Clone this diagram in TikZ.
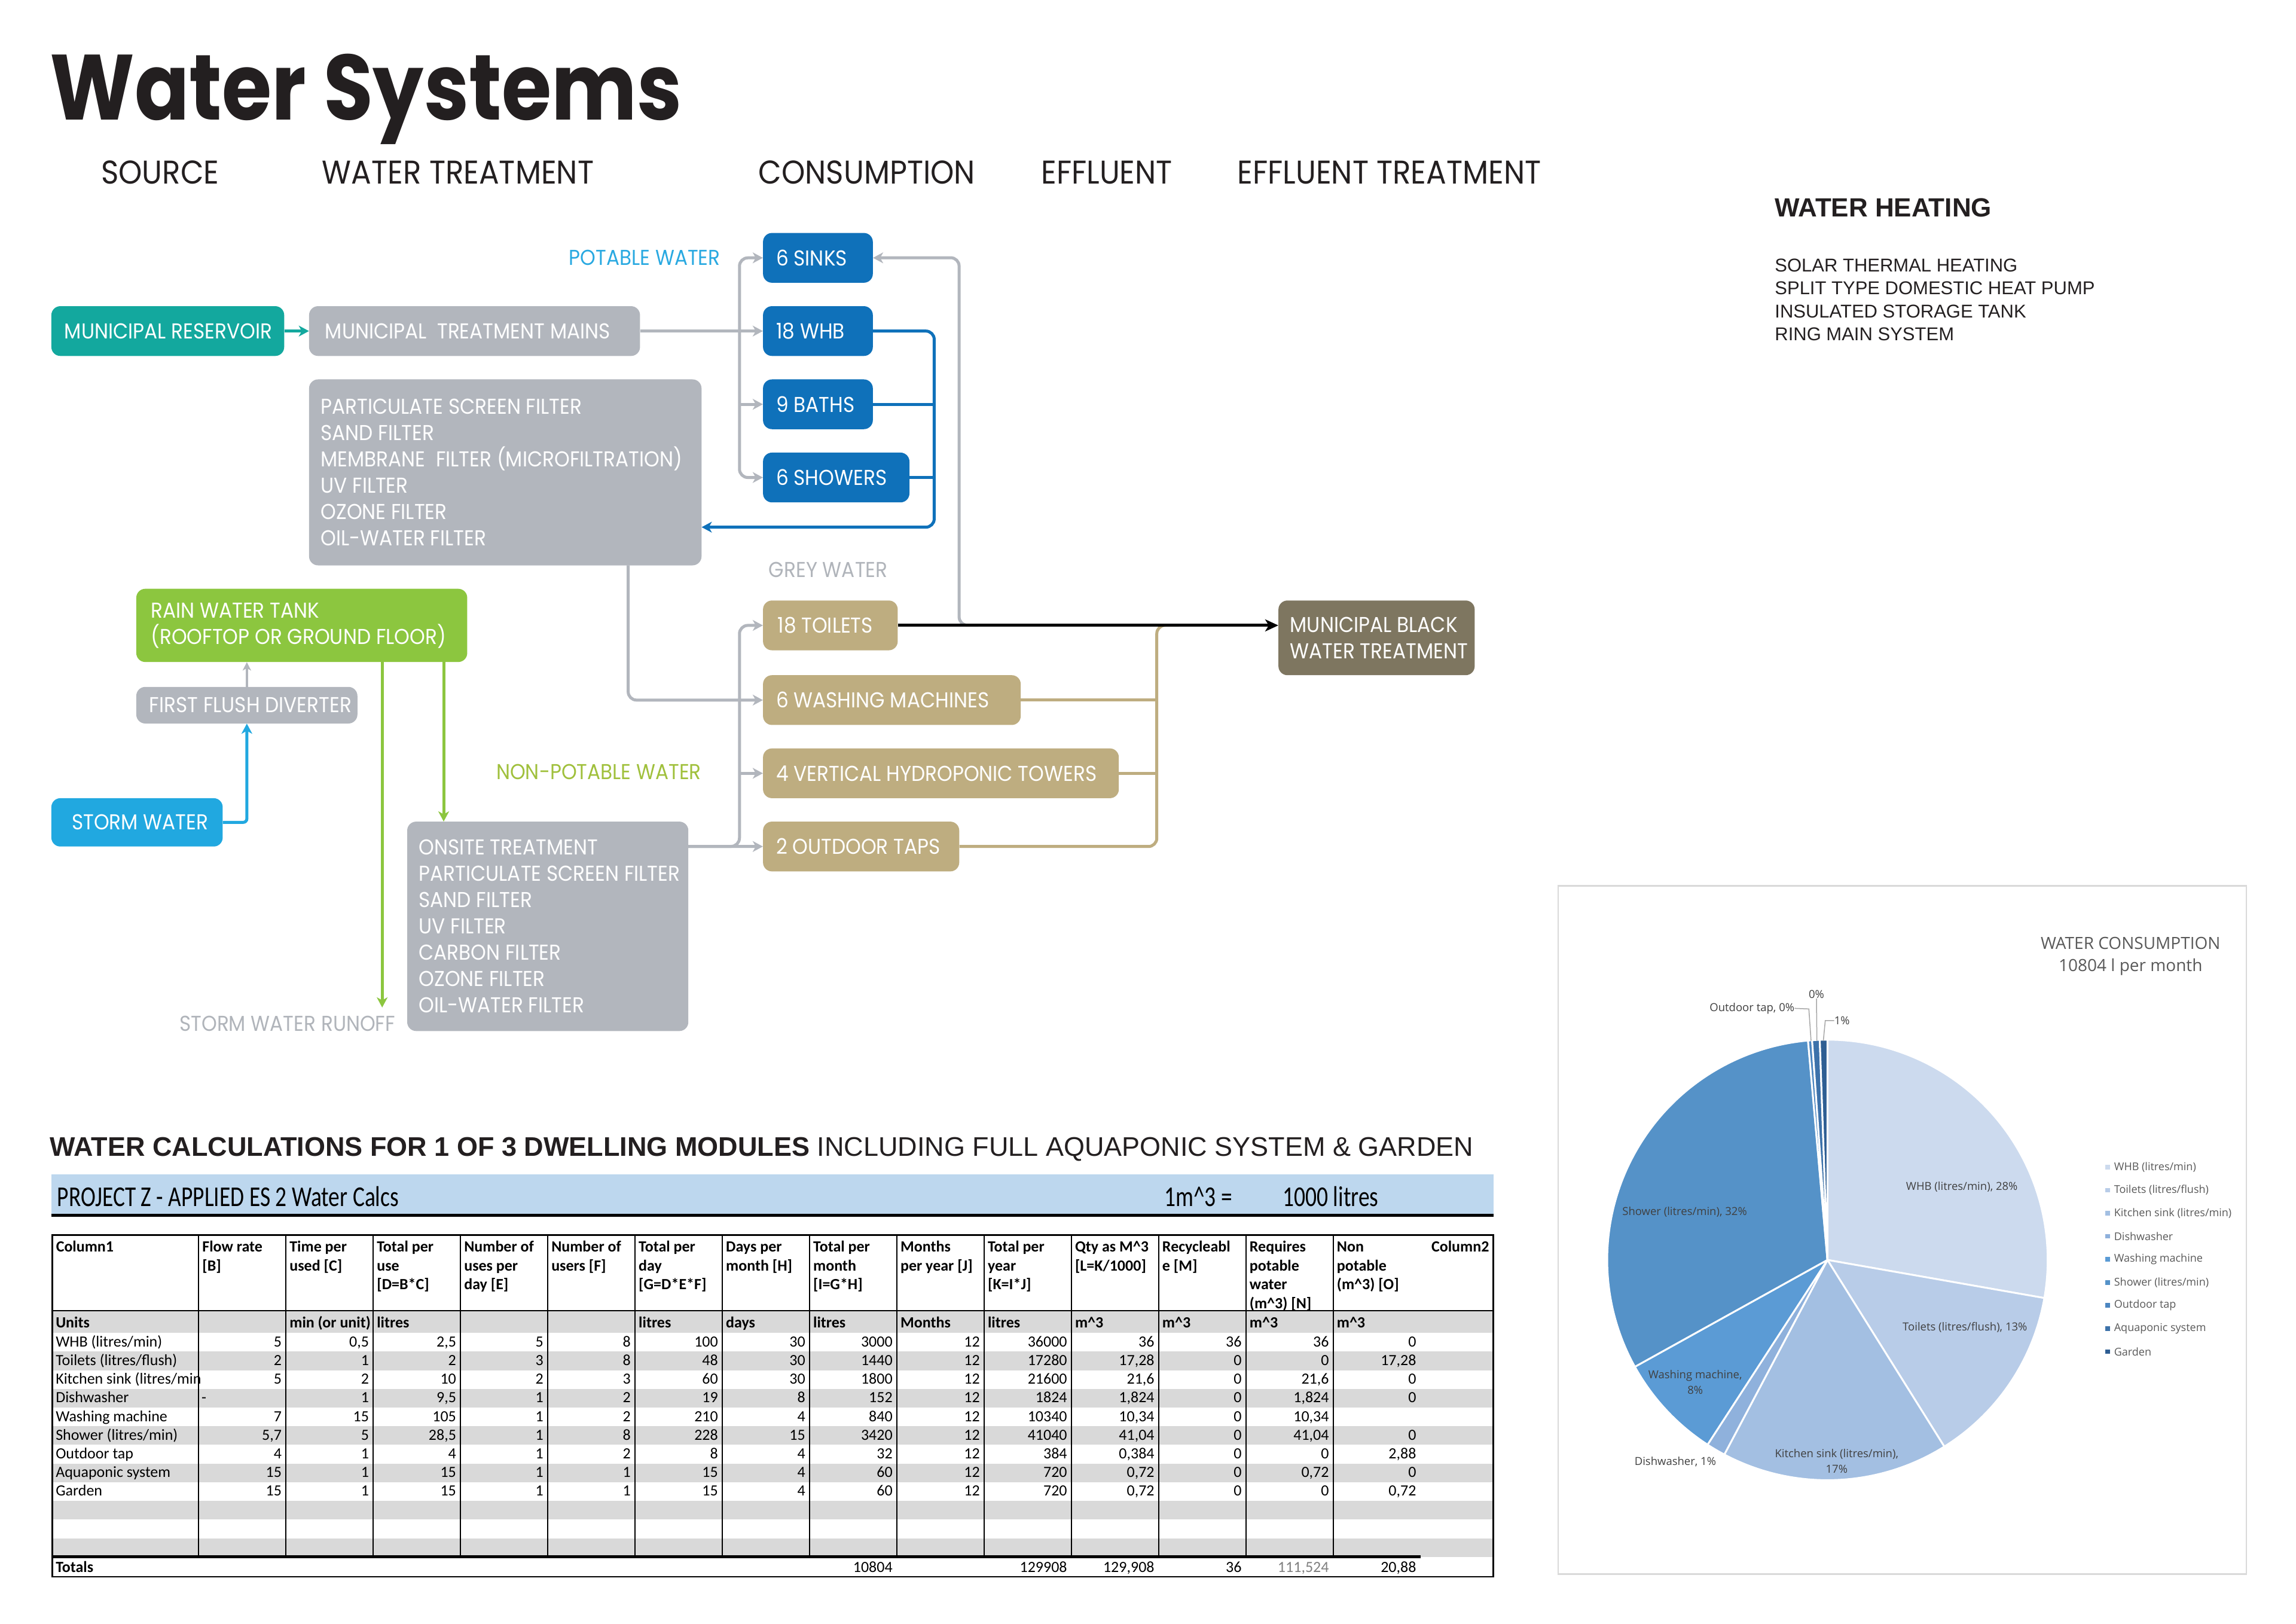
\documentclass[tikz,border=0pt]{standalone}
\usepackage{fontspec}
\setmainfont{Liberation Sans}
\newfontfamily\futfont[FakeStretch=0.91]{Poppins}
\newfontfamily\futtfont[FakeStretch=0.87]{Poppins}
\newfontfamily\carlfont{Carlito}
\newfontfamily\carlcfont[FakeStretch=0.78]{Carlito}
\newfontfamily\osfont{Open Sans}
\usetikzlibrary{arrows.meta}
\newlength\uu \setlength\uu{2.449pt}
\newlength\bw \newlength\bh
\newcommand\crt{\textasciicircum}
\definecolor{cteal}{HTML}{13A89E}
\definecolor{cgrey}{HTML}{B2B6BD}
\definecolor{cblue}{HTML}{0F71BA}
\definecolor{cstorm}{HTML}{21A8E0}
\definecolor{cgreen}{HTML}{8CC63F}
\definecolor{ctan}{HTML}{BEAD80}
\definecolor{cdark}{HTML}{7E7660}
\definecolor{cpot}{HTML}{29A9E1}
\definecolor{cnon}{HTML}{A0C03C}
\definecolor{clgrey}{HTML}{B0B4BA}
\definecolor{ctitle}{HTML}{231F20}
\definecolor{tgrey}{HTML}{D9D9D9}
\definecolor{cbar}{HTML}{BDD7EE}
\definecolor{cframe}{HTML}{D9D9D9}
\definecolor{cpie}{HTML}{404040}
\definecolor{cleg}{HTML}{595959}
\definecolor{cldr}{HTML}{A6A6A6}
\definecolor{p0}{HTML}{CCDAEE}
\definecolor{p1}{HTML}{B8CCE8}
\definecolor{p2}{HTML}{A3BFE2}
\definecolor{p3}{HTML}{8FB1DC}
\definecolor{p4}{HTML}{5B9BD5}
\definecolor{p5}{HTML}{5592C8}
\definecolor{p6}{HTML}{4C86C0}
\definecolor{p7}{HTML}{3D72AA}
\definecolor{p8}{HTML}{2E5E93}
\tikzset{
  box/.style={rounded corners=15pt, inner sep=0pt, draw=none},
  boxtxt/.style={inner sep=0pt, text=white, align=left, font=\futfont\fontsize{36}{44}\selectfont},
  lbl/.style={inner sep=0pt, font=\futfont\fontsize{36}{44}\selectfont},
  hdr/.style={inner sep=0pt, text=ctitle, font=\futfont\fontsize{55}{60}\selectfont},
  arr/.style={-{Stealth[length=17pt,width=18pt,inset=5pt]}},
  gl/.style={draw=cgrey, line width=5pt, rounded corners=14pt},
  bl/.style={draw=cblue, line width=5pt, rounded corners=14pt},
  sbl/.style={draw=cstorm, line width=5pt, rounded corners=6pt},
  gn/.style={draw=cgreen, line width=5pt},
  tl/.style={draw=ctan, line width=5pt, rounded corners=14pt},
  cell/.style={inner sep=0pt, font=\carlfont\fontsize{26}{31}\selectfont},
  hcell/.style={inner sep=0pt, font=\carlfont\bfseries\fontsize{26}{31}\selectfont},
  bart/.style={inner sep=0pt, font=\carlcfont\fontsize{48}{52}\selectfont},
  pl/.style={inner sep=0pt, text=cpie, font=\osfont\fontsize{18.5}{26}\selectfont},
  leg/.style={inner sep=0pt, text=cleg, font=\osfont\fontsize{18}{20}\selectfont},
  ptitle/.style={inner sep=0pt, text=cleg, font=\osfont\fontsize{28}{32}\selectfont},
  ldr/.style={draw=cldr, line width=1.5pt},
}
% name, x1, y1, x2, y2, style, pad, text
\newcommand\bx[8]{%
  \pgfmathsetlength\bw{(#4-#2)*\uu}\pgfmathsetlength\bh{(#5-#3)*\uu}%
  \node[box,#6,anchor=north west,minimum width=\bw,minimum height=\bh] (#1) at (#2,#3) {};
  \node[boxtxt,anchor=west] (#1t) at ([xshift=#7*\uu]#1.west) {#8};}
% table data row: index, name, values
\newcommand\trow[3]{%
  \node[cell,anchor=base west] (r#1n) at (38,910.2+12.75*#1+9.4) {#2};
  \foreach \v [count=\cc] in {#3}
    \node[cell,anchor=base east] (r#1c\cc) at (135.6+59.6*\cc-2.8,910.2+12.75*#1+9.4) {\v};}
% header column: name, x, lines
\newcommand\hcol[3]{%
  \foreach \htxt [count=\k from 0] in {#3}
    \node[hcell,anchor=base west] (h#1\k) at (#2+2.5,854.8+12.9*\k) {\htxt};}
\begin{document}
\begin{tikzpicture}[x=\uu,y=-\uu]
\useasboundingbox (0,0) rectangle (1568,1109);
\fill[white] (0,0) rectangle (1568,1109);

% ---------- title and headers
\node[anchor=base west, inner sep=0pt, text=ctitle, font=\futtfont\bfseries\fontsize{155}{160}\selectfont] (title) at (34,82) {Water Systems};
\node[hdr,anchor=base west] (hsrc) at (69,125.5) {SOURCE};
\node[hdr,anchor=base west] (htr) at (220,125.5) {WATER TREATMENT};
\node[hdr,anchor=base west] (hcon) at (518,125.5) {CONSUMPTION};
\node[hdr,anchor=base west] (heff) at (711,125.5) {EFFLUENT};
\node[hdr,anchor=base west] (hefft) at (845,125.5) {EFFLUENT TREATMENT};

% ---------- water heating
\node[anchor=base west, inner sep=0pt, text=ctitle, font=\bfseries\fontsize{44}{50}\selectfont] (wh) at (1212,148) {WATER HEATING};
\foreach \w [count=\k from 0] in {SOLAR THERMAL HEATING,SPLIT TYPE DOMESTIC HEAT PUMP,INSULATED STORAGE TANK,RING MAIN SYSTEM}
  \node[anchor=base west, inner sep=0pt, text=ctitle, font=\fontsize{31}{38}\selectfont] (whl\k) at (1212,185.5+15.7*\k) {\w};

% ---------- boxes
\bx{mr}{35}{209}{194}{243}{fill=cteal}{9}{MUNICIPAL RESERVOIR}
\bx{mtm}{211}{209}{437}{243}{fill=cgrey}{11}{MUNICIPAL\ \ TREATMENT MAINS}
\bx{filt}{211}{259}{479}{386}{fill=cgrey}{8}{PARTICULATE SCREEN FILTER\\SAND FILTER\\MEMBRANE\ \ FILTER (MICROFILTRATION)\\UV FILTER\\OZONE FILTER\\OIL-WATER FILTER}
\bx{sinks}{521}{159}{596}{193}{fill=cblue}{9}{6 SINKS}
\bx{whb}{521}{209}{596}{243}{fill=cblue}{9}{18 WHB}
\bx{baths}{521}{259}{596}{293}{fill=cblue}{9}{9 BATHS}
\bx{showers}{521}{309}{621}{343}{fill=cblue}{9}{6 SHOWERS}
\bx{toilets}{521}{410}{613}{444}{fill=ctan}{10}{18 TOILETS}
\bx{wash}{521}{461}{697}{495}{fill=ctan}{9}{6 WASHING MACHINES}
\bx{hydro}{521}{511}{764}{545}{fill=ctan}{9}{4 VERTICAL HYDROPONIC TOWERS}
\bx{taps}{521}{561}{655}{595}{fill=ctan}{9}{2 OUTDOOR TAPS}
\bx{mbw}{873}{410}{1007}{461}{fill=cdark}{8}{MUNICIPAL BLACK\\WATER TREATMENT}
\bx{rwt}{93}{402}{319}{452}{fill=cgreen}{10}{RAIN WATER TANK\\(ROOFTOP OR GROUND FLOOR)}
\bx{ffd}{93}{469}{244}{494}{fill=cgrey}{9}{FIRST FLUSH DIVERTER}
\bx{storm}{35}{545}{152}{578}{fill=cstorm}{14}{STORM WATER}
\bx{onsite}{278}{561}{470}{704}{fill=cgrey}{8}{ONSITE TREATMENT\\PARTICULATE SCREEN FILTER\\SAND FILTER\\UV FILTER\\CARBON FILTER\\OZONE FILTER\\OIL-WATER FILTER}

% ---------- labels
\node[lbl,text=cpot,anchor=east] (potl) at (492,176) {POTABLE WATER};
\node[lbl,text=clgrey,anchor=west] (greyl) at (525,389) {GREY WATER};
\node[lbl,text=cnon,anchor=east] (nonl) at (479,527) {NON-POTABLE WATER};
\node[lbl,text=clgrey,anchor=east] (runl) at (270,699) {STORM WATER RUNOFF};

% ---------- connectors
\coordinate (pj) at (505,226);
\coordinate (br) at (638,360);
\coordinate (gr1) at (668,427);
\coordinate (gr2) at (655,176);
\coordinate (fb) at (429,386);
\coordinate (os) at (470,578);
\coordinate (ov) at (505,500);
\coordinate (tt) at (790,427);
\coordinate (tt2) at (805,427);
\coordinate (g1) at (261,452);
\coordinate (g1e) at (261,688);
\coordinate (g2) at (303,452);

\draw[draw=cteal,line width=5pt,arr] (mr.east) -- (mtm.west);
\draw[gl,arr] (mtm.east) -- (whb.west);
\draw[gl,arr] (pj) |- (sinks.west);
\draw[gl,arr] (pj) |- (showers.west);
\draw[gl,arr] (pj |- baths.west) -- (baths.west);

\draw[bl,arr] (whb.east) -| (br) -- (br -| filt.east);
\draw[bl] (baths.east) -- (baths.east -| br);
\draw[bl] (showers.east) -- (showers.east -| br);

\draw[gl,arr] (gr1) -| (gr2) -- (sinks.east);
\draw[gl,arr] (fb) |- (wash.west);
\draw[gl,arr] (os) -| (ov) |- (toilets.west);
\draw[gl,arr] (os) -- (taps.west);
\draw[gl,arr] (ov |- hydro.west) -- (hydro.west);

\draw[tl] (taps.east) -| (tt) -- (tt2);
\draw[tl] (wash.east) -- (wash.east -| tt);
\draw[tl] (hydro.east) -- (hydro.east -| tt);
\draw[line width=5pt,-{Stealth[length=22pt,width=20pt,inset=6pt]}] (toilets.east) -- (toilets.east -| mbw.west);

\draw[gl,line width=3.5pt,-{Stealth[length=14pt,width=14pt,inset=4pt]}] (ffd.north) -- (ffd.north |- rwt.south);
\draw[sbl,arr] (storm.east) -| (ffd.south);
\draw[gn,arr] (g1) -- (g1e);
\draw[gn,arr] (g2) -- (g2 |- onsite.north);

% ---------- table heading
\node[anchor=base west, inner sep=0pt, text=ctitle, font=\fontsize{45}{50}\selectfont] (thead) at (34,789.5) {\textbf{WATER CALCULATIONS FOR 1 OF 3 DWELLING MODULES} INCLUDING FULL AQUAPONIC SYSTEM \& GARDEN};

% ---------- project bar
\fill[cbar] (35,802) rectangle (1020,830);
\draw[line width=5pt] (35,830) -- (1020,830);
\node[bart,anchor=base west] (bar1) at (39,824) {PROJECT Z - APPLIED ES 2 Water Calcs};
\node[bart,anchor=base west] (bar2) at (795,824) {1m\crt3 =};
\node[bart,anchor=base west] (bar3) at (876,824) {1000 litres};

% ---------- table
\fill[tgrey] (35.7,895) rectangle (1019.8,910.2);
\foreach \i in {1,3,5,7,9,11}
  \fill[tgrey] (35.7,910.2+12.75*\i) rectangle (1019.8,910.2+12.75*\i+12.75);
\draw[line width=2.5pt] (35.7,843.5) rectangle (1019.8,1076.8);
\foreach \k in {0,...,13}
  \draw[line width=2pt] (135.6+59.6*\k,843.5) -- (135.6+59.6*\k,1063.1);
\draw[line width=2pt] (35.7,895) -- (1019.8,895);
\draw[line width=5pt] (35.7,1063.1) -- (970,1063.1);

\hcol{a}{35.7}{Column1}
\hcol{b}{135.6}{Flow rate,[B]}
\hcol{c}{195.2}{Time per,used [C]}
\hcol{d}{254.8}{Total per,use,[D=B*C]}
\hcol{e}{314.4}{Number of,uses per,day [E]}
\hcol{f}{374}{Number of,users [F]}
\hcol{g}{433.6}{Total per,day,[G=D*E*F]}
\hcol{h}{493.2}{Days per,month [H]}
\hcol{i}{552.8}{Total per,month,[I=G*H]}
\hcol{j}{612.4}{Months,per year [J]}
\hcol{k}{672}{Total per,year,[K=I*J]}
\hcol{l}{731.6}{Qty as M\crt3,[L=K/1000]}
\hcol{m}{791.2}{Recycleabl,e [M]}
\hcol{n}{850.8}{Requires,potable,water,(m\crt3) [N]}
\hcol{o}{910.4}{Non,potable,(m\crt3) [O]}
\node[hcell,anchor=base east] (hcol2) at (1017,854.8) {Column2};

% units row
\node[hcell,anchor=base west] (u1) at (38,906.5) {Units};
\node[hcell,anchor=base west] (u2) at (197.7,906.5) {min (or unit)};
\node[hcell,anchor=base west] (u3) at (257.3,906.5) {litres};
\node[hcell,anchor=base west] (u4) at (436.1,906.5) {litres};
\node[hcell,anchor=base west] (u5) at (495.7,906.5) {days};
\node[hcell,anchor=base west] (u6) at (555.3,906.5) {litres};
\node[hcell,anchor=base west] (u7) at (614.9,906.5) {Months};
\node[hcell,anchor=base west] (u8) at (674.5,906.5) {litres};
\node[hcell,anchor=base west] (u9) at (734.1,906.5) {m\crt3};
\node[hcell,anchor=base west] (u10) at (793.7,906.5) {m\crt3};
\node[hcell,anchor=base west] (u11) at (853.3,906.5) {m\crt3};
\node[hcell,anchor=base west] (u12) at (912.9,906.5) {m\crt3};

\trow{0}{WHB (litres/min)}{5,{0,5},{2,5},5,8,100,30,3000,12,36000,36,36,36,0}
\trow{1}{Toilets (litres/flush)}{2,1,2,3,8,48,30,1440,12,17280,{17,28},0,0,{17,28}}
\trow{2}{Kitchen sink (litres/min}{5,2,10,2,3,60,30,1800,12,21600,{21,6},0,{21,6},0}
\trow{3}{Dishwasher}{{},1,{9,5},1,2,19,8,152,12,1824,{1,824},0,{1,824},0}
\node[cell,anchor=base west] (dashb) at (137.6,910.2+12.75*3+9.4) {-};
\trow{4}{Washing machine}{7,15,105,1,2,210,4,840,12,10340,{10,34},0,{10,34},{}}
\trow{5}{Shower (litres/min)}{{5,7},5,{28,5},1,8,228,15,3420,12,41040,{41,04},0,{41,04},0}
\trow{6}{Outdoor tap}{4,1,4,1,2,8,4,32,12,384,{0,384},0,0,{2,88}}
\trow{7}{Aquaponic system}{15,1,15,1,1,15,4,60,12,720,{0,72},0,{0,72},0}
\trow{8}{Garden}{15,1,15,1,1,15,4,60,12,720,{0,72},0,0,{0,72}}

% totals
\node[hcell,anchor=base west] (tot) at (38,1073.5) {Totals};
\node[cell,anchor=base east] (tot1) at (609.6,1073.5) {10804};
\node[cell,anchor=base east] (tot2) at (728.8,1073.5) {129908};
\node[cell,anchor=base east] (tot3) at (788.4,1073.5) {129,908};
\node[cell,anchor=base east] (tot4) at (848,1073.5) {36};
\node[cell,anchor=base east,text=gray] (tot5) at (907.6,1073.5) {111,524};
\node[cell,anchor=base east] (tot6) at (967.2,1073.5) {20,88};

% ---------- pie chart
\draw[draw=cframe,line width=2.5pt] (1064,605) rectangle (1534,1075);
\node[ptitle] (pt1) at (1455,644.2) {WATER CONSUMPTION};
\node[ptitle] (pt2) at (1455,660.2) {10804 l per month};
\coordinate (pc) at (1248,860.4);
\foreach \a/\b [count=\k from 0] in {-90/9.963,9.963/57.945,57.945/117.923,117.923/122.988,122.988/150.978,150.978/264.936,264.936/266.002,266.002/268.001,268.001/270}
  \filldraw[fill=p\k,draw=white,line width=3pt,line join=round] (pc) -- ++(\a:150.4) arc[start angle=\a,end angle=\b,radius=150.4] -- cycle;

\node[pl] (lwhb) at (1339.8,810.6) {WHB (litres/min), 28\%};
\node[pl] (ltoi) at (1341.9,906.3) {Toilets (litres/flush), 13\%};
\node[pl,align=center] (lkit) at (1254.3,997.7) {Kitchen sink (litres/min),\\17\%};
\node[pl] (ldis) at (1144.1,998.4) {Dishwasher, 1\%};
\node[pl,align=center] (lwas) at (1157.7,943.9) {Washing machine,\\8\%};
\node[pl] (lsho) at (1150.5,827.5) {Shower (litres/min), 32\%};
\node[pl,anchor=east] (lout) at (1225.5,688.6) {Outdoor tap, 0\%};
\node[pl] (l0) at (1240.5,679) {0\%};
\node[pl,anchor=west] (l1) at (1252.6,697) {1\%};
\coordinate (ld1) at (1235.3,689);
\coordinate (ld2) at (1236.8,710.7);
\coordinate (ld3) at (1240.8,710.7);
\coordinate (ld4) at (1246.5,697);
\coordinate (ld5) at (1245.2,710.7);
\draw[ldr] (lout.east) -- (ld1) -- (ld2);
\draw[ldr] (l0.south) -- (ld3);
\draw[ldr] (l1.west) -- (ld4) -- (ld5);

\foreach \nm [count=\k from 0] in {WHB (litres/min),Toilets (litres/flush),Kitchen sink (litres/min),Dishwasher,Washing machine,Shower (litres/min),Outdoor tap,Aquaponic system,Garden}{
  \fill[p\k] (1437.6,795.4+15.75*\k) rectangle ++(3.2,3.2);
  \node[leg,anchor=west] (lg\k) at (1443.7,797+15.75*\k) {\nm};
}
\end{tikzpicture}
\end{document}
